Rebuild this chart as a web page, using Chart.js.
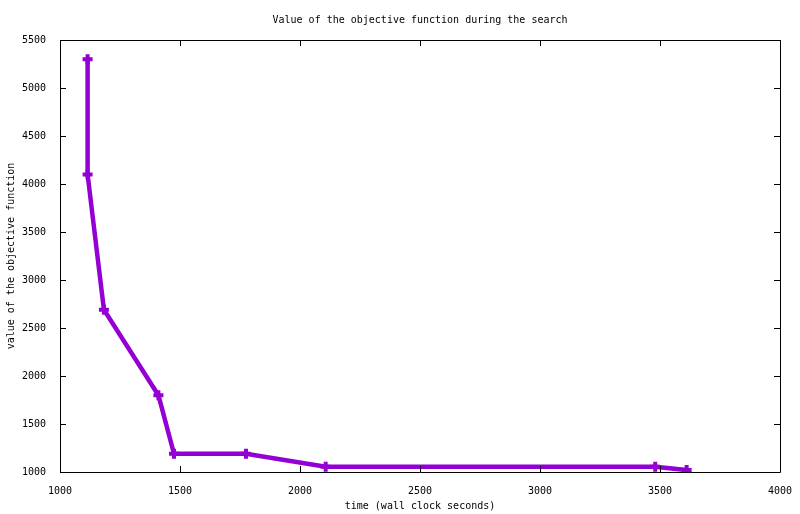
<!DOCTYPE html>
<html>
<head>
<meta charset="utf-8">
<script src="https://cdn.jsdelivr.net/npm/chart.js@4/dist/chart.umd.min.js"></script>
<style>
  html, body { margin: 0; padding: 0; background: #ffffff; }
  #wrap { width: 800px; height: 514px; }
</style>
</head>
<body>
<div id="wrap"><canvas id="chart" width="800" height="514"></canvas></div>
<script>
// wall clock seconds at each improvement
const times = [1115, 1115, 1183, 1410, 1475, 1775, 2107, 3480, 3611];
// objective value at each improvement
const objective = [5300, 4100, 2690, 1800, 1190, 1190, 1055, 1055, 1020];

const xTicks = [1000, 1500, 2000, 2500, 3000, 3500, 4000];
const yTicks = [1000, 1500, 2000, 2500, 3000, 3500, 4000, 4500, 5000, 5500];

const FONT = 'DejaVu Sans Mono';
const LINE = '#9400d3';

// gnuplot-style frame with inward ticks on all four sides
const framePlugin = {
    id: 'frame',
    afterDraw(chart) {
        const ctx = chart.ctx;
        const { left, right, top, bottom } = chart.chartArea;
        const len = 6;
        ctx.save();
        ctx.strokeStyle = '#000000';
        ctx.lineWidth = 1;
        ctx.beginPath();
        ctx.rect(Math.round(left) + 0.5, Math.round(top) + 0.5,
                 Math.round(right - left), Math.round(bottom - top));
        chart.scales.x.ticks.forEach(t => {
            const px = Math.round(chart.scales.x.getPixelForValue(t.value)) + 0.5;
            ctx.moveTo(px, bottom); ctx.lineTo(px, bottom - len);
            ctx.moveTo(px, top); ctx.lineTo(px, top + len);
        });
        chart.scales.y.ticks.forEach(t => {
            const py = Math.round(chart.scales.y.getPixelForValue(t.value)) + 0.5;
            ctx.moveTo(left, py); ctx.lineTo(left + len, py);
            ctx.moveTo(right, py); ctx.lineTo(right - len, py);
        });
        ctx.stroke();
        ctx.restore();
    }
};

new Chart(document.getElementById('chart'), {
    type: 'line',
    data: {
        datasets: [{
            data: times.map((t, i) => ({ x: t, y: objective[i] })),
            borderColor: LINE,
            backgroundColor: LINE,
            borderWidth: 4.5,
            tension: 0,
            pointStyle: 'cross',
            pointRadius: 5,
            pointBorderWidth: 4,
            pointBorderColor: LINE,
            fill: false
        }]
    },
    options: {
        responsive: false,
        animation: false,
        layout: { padding: { left: 0, right: 20, top: 0, bottom: 0 } },
        plugins: {
            legend: { display: false },
            tooltip: { enabled: false },
            title: {
                display: true,
                fullSize: false,
                text: 'Value of the objective function during the search',
                color: '#000000',
                font: { family: FONT, size: 10, weight: 'normal' },
                padding: { top: 14, bottom: 14 }
            }
        },
        scales: {
            x: {
                type: 'linear',
                min: 1000,
                max: 4000,
                afterBuildTicks: s => { s.ticks = xTicks.map(v => ({ value: v })); },
                afterFit: s => { s.height = 42; },
                grid: { display: false },
                border: { display: false },
                ticks: {
                    color: '#000000',
                    font: { family: FONT, size: 10 },
                    padding: 5,
                    maxRotation: 0,
                    callback: v => String(v)
                },
                title: {
                    display: true,
                    text: 'time (wall clock seconds)',
                    color: '#000000',
                    font: { family: FONT, size: 10 },
                    padding: { top: 2, bottom: 2 }
                }
            },
            y: {
                type: 'linear',
                min: 1000,
                max: 5500,
                afterBuildTicks: s => { s.ticks = yTicks.map(v => ({ value: v })); },
                afterFit: s => { s.width = 60; },
                grid: { display: false },
                border: { display: false },
                ticks: {
                    color: '#000000',
                    font: { family: FONT, size: 10 },
                    padding: 6,
                    callback: v => String(v)
                },
                title: {
                    display: true,
                    text: 'value of the objective function',
                    color: '#000000',
                    font: { family: FONT, size: 10 },
                    padding: { top: 5, bottom: 0 }
                }
            }
        }
    },
    plugins: [framePlugin]
});
</script>
</body>
</html>
